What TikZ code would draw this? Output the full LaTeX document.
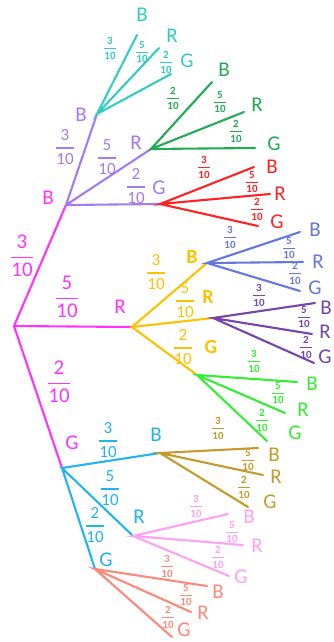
\documentclass[tikz,border=0pt]{standalone}
\usepackage{amsmath}
\usepackage{fontspec}
\setmainfont{Carlito}
\definecolor{cmag}{HTML}{FF33FF}
\definecolor{cpur}{HTML}{A47AF2}
\definecolor{ccya}{HTML}{33CCC0}
\definecolor{cgrn}{HTML}{22AA55}
\definecolor{cred}{HTML}{FF2222}
\definecolor{corg}{HTML}{FFC000}
\definecolor{cblu}{HTML}{6677DD}
\definecolor{cdpu}{HTML}{7744AA}
\definecolor{cbgr}{HTML}{33EE33}
\definecolor{csky}{HTML}{22B4EE}
\definecolor{cgld}{HTML}{C49A2A}
\definecolor{cpnk}{HTML}{FFA0F5}
\definecolor{csal}{HTML}{FF8878}
\newlength{\frt}
\newcommand{\fr}[2]{\ensuremath{\genfrac{}{}{\frt}{0}{\text{#1}}{\text{#2}}}}
\tikzset{
  br/.style={line width=2.1pt,line cap=round,#1},
  let/.style={inner sep=0pt,font=\fontsize{21}{21}\selectfont,text=#1},
  blet/.style={inner sep=0pt,font=\bfseries\fontsize{20}{20}\selectfont,text=#1},
  fa/.style={inner sep=0pt,font=\fontsize{21}{22}\selectfont\setlength{\frt}{1.5pt},text=#1},
  fb/.style={inner sep=0pt,font=\fontsize{17}{18}\selectfont\setlength{\frt}{1.2pt},text=#1},
  fc/.style={inner sep=0pt,font=\bfseries\fontsize{11}{12}\selectfont\setlength{\frt}{0.8pt},text=#1},
}
\begin{document}
\begin{tikzpicture}[x=1pt,y=-1pt]
\useasboundingbox (0,0) rectangle (333,642);
% level 0/1 points
\coordinate (root) at (14,326);
\coordinate (B1) at (66,205);
\coordinate (R1) at (132,327);
\coordinate (G1) at (62,468);
% level 2 points
\coordinate (B1B) at (97,114);
\coordinate (B1R) at (151,149);
\coordinate (B1G) at (160,204);
\coordinate (R1B) at (207,263);
\coordinate (R1R) at (213,318);
\coordinate (R1G) at (197,375);
\coordinate (G1B) at (160,453);
\coordinate (G1R) at (133,536);
\coordinate (G1G) at (95,569);
% level 3 ends
\coordinate (B1BB) at (137,35);  \coordinate (B1BR) at (159,48);  \coordinate (B1BG) at (171,74);
\coordinate (B1RB) at (212,82);  \coordinate (B1RR) at (244,112); \coordinate (B1RG) at (255,148);
\coordinate (B1GB) at (254,167); \coordinate (B1GR) at (270,194); \coordinate (B1GG) at (258,226);
\coordinate (R1BB) at (300,232); \coordinate (R1BR) at (303,262); \coordinate (R1BG) at (300,291);
\coordinate (R1RB) at (315,303); \coordinate (R1RR) at (312,334); \coordinate (R1RG) at (314,363);
\coordinate (R1GB) at (297,382); \coordinate (R1GR) at (285,413); \coordinate (R1GG) at (267,441);
\coordinate (G1BB) at (258,448); \coordinate (G1BR) at (263,475); \coordinate (G1BG) at (248,507);
\coordinate (G1RB) at (228,514); \coordinate (G1RR) at (243,545); \coordinate (G1RG) at (229,576);
\coordinate (G1GB) at (207,586); \coordinate (G1GR) at (191,612); \coordinate (G1GG) at (172,637);
% branches
\draw[br=cmag] (B1) -- (root) -- (R1) (root) -- (G1);
\draw[br=cpur] (B1B) -- (B1) -- (B1R) (B1) -- (B1G);
\draw[br=corg] (R1B) -- (R1) -- (R1R) (R1) -- (R1G);
\draw[br=csky] (G1B) -- (G1) -- (G1R) (G1) -- (G1G);
\draw[br=ccya] (B1BB) -- (B1B) -- (B1BR) (B1B) -- (B1BG);
\draw[br=cgrn] (B1RB) -- (B1R) -- (B1RR) (B1R) -- (B1RG);
\draw[br=cred] (B1GB) -- (B1G) -- (B1GR) (B1G) -- (B1GG);
\draw[br=cblu] (R1BB) -- (R1B) -- (R1BR) (R1B) -- (R1BG);
\draw[br=cdpu] (R1RB) -- (R1R) -- (R1RR) (R1R) -- (R1RG);
\draw[br=cbgr] (R1GB) -- (R1G) -- (R1GR) (R1G) -- (R1GG);
\draw[br=cgld] (G1BB) -- (G1B) -- (G1BR) (G1B) -- (G1BG);
\draw[br=cpnk] (G1RB) -- (G1R) -- (G1RR) (G1R) -- (G1RG);
\draw[br=csal] (G1GB) -- (G1G) -- (G1GR) (G1G) -- (G1GG);
% level 1 labels
\node[let=cmag] (tB1) at (48,198) {B};
\node[let=cmag] (tR1) at (120,307) {R};
\node[let=cmag] (tG1) at (72,443) {G};
\node[fa=cmag] (fB1) at (22,256) {\fr{3}{10}};
\node[fa=cmag] (fR1) at (67,297) {\fr{5}{10}};
\node[fa=cmag] (fG1) at (59,382) {\fr{2}{10}};
% level 2 labels
\node[let=cpur] (tB1B) at (81,115) {B};
\node[let=cpur] (tB1R) at (136,143) {R};
\node[let=cpur] (tB1G) at (159,188) {G};
\node[fb=cpur] (fB1B) at (65,147) {\fr{3}{10}};
\node[fb=cpur] (fB1R) at (107,157) {\fr{5}{10}};
\node[fb=cpur] (fB1G) at (136,186) {\fr{2}{10}};
\node[blet=corg] (tR1B) at (192,257) {B};
\node[blet=corg] (tR1R) at (208,297) {R};
\node[blet=corg] (tR1G) at (211,347) {G};
\node[fb=corg] (fR1B) at (156,272) {\fr{3}{10}};
\node[fb=corg] (fR1R) at (185,300) {\fr{5}{10}};
\node[fb=corg] (fR1G) at (183,347) {\fr{2}{10}};
\node[let=csky] (tG1B) at (156,435) {B};
\node[let=csky] (tG1R) at (139,517) {R};
\node[let=csky] (tG1G) at (106,560) {G};
\node[fb=csky] (fG1B) at (108,440) {\fr{3}{10}};
\node[fb=csky] (fG1R) at (110,488) {\fr{5}{10}};
\node[fb=csky] (fG1G) at (95,525) {\fr{2}{10}};
% level 3 labels
\node[let=ccya] (tB1BB) at (142,15) {B};
\node[let=ccya] (tB1BR) at (172,36) {R};
\node[let=ccya] (tB1BG) at (187,61) {G};
\node[fc=ccya] (fB1BB) at (110,48) {\fr{3}{10}};
\node[fc=ccya] (fB1BR) at (142,52) {\fr{5}{10}};
\node[fc=ccya] (fB1BG) at (166,62) {\fr{2}{10}};
\node[let=cgrn] (tB1RB) at (224,70) {B};
\node[let=cgrn] (tB1RR) at (257,105) {R};
\node[let=cgrn] (tB1RG) at (274,144) {G};
\node[fc=cgrn] (fB1RB) at (173,98) {\fr{2}{10}};
\node[fc=cgrn] (fB1RR) at (220,102) {\fr{5}{10}};
\node[fc=cgrn] (fB1RG) at (236,131) {\fr{2}{10}};
\node[let=cred] (tB1GB) at (272,167) {B};
\node[let=cred] (tB1GR) at (280,194) {R};
\node[let=cred] (tB1GG) at (277,222) {G};
\node[fc=cred] (fB1GB) at (204,167) {\fr{3}{10}};
\node[fc=cred] (fB1GR) at (252,182) {\fr{5}{10}};
\node[fc=cred] (fB1GG) at (257,209) {\fr{2}{10}};
\node[let=cblu] (tR1BB) at (315,230) {B};
\node[let=cblu] (tR1BR) at (318,262) {R};
\node[let=cblu] (tR1BG) at (315,288) {G};
\node[fc=cblu] (fR1BB) at (230,237) {\fr{3}{10}};
\node[fc=cblu] (fR1BR) at (289,248) {\fr{5}{10}};
\node[fc=cblu] (fR1BG) at (295,273) {\fr{2}{10}};
\node[let=cdpu] (tR1RB) at (326,308) {B};
\node[let=cdpu] (tR1RR) at (325,332) {R};
\node[let=cdpu] (tR1RG) at (325,357) {G};
\node[fc=cdpu] (fR1RB) at (259,295) {\fr{3}{10}};
\node[fc=cdpu] (fR1RR) at (304,317) {\fr{5}{10}};
\node[fc=cdpu] (fR1RG) at (306,347) {\fr{2}{10}};
\node[let=cbgr] (tR1GB) at (312,384) {B};
\node[let=cbgr] (tR1GR) at (303,410) {R};
\node[let=cbgr] (tR1GG) at (295,433) {G};
\node[fc=cbgr] (fR1GB) at (254,361) {\fr{3}{10}};
\node[fc=cbgr] (fR1GR) at (278,393) {\fr{5}{10}};
\node[fc=cbgr] (fR1GG) at (262,420) {\fr{2}{10}};
\node[let=cgld] (tG1BB) at (274,455) {B};
\node[let=cgld] (tG1BR) at (276,477) {R};
\node[let=cgld] (tG1BG) at (270,502) {G};
\node[fc=cgld] (fG1BB) at (218,428) {\fr{3}{10}};
\node[fc=cgld] (fG1BR) at (248,460) {\fr{5}{10}};
\node[fc=cgld] (fG1BG) at (244,487) {\fr{2}{10}};
\node[let=cpnk] (tG1RB) at (249,517) {B};
\node[let=cpnk] (tG1RR) at (257,546) {R};
\node[let=cpnk] (tG1RG) at (241,577) {G};
\node[fc=cpnk] (fG1RB) at (196,506) {\fr{3}{10}};
\node[fc=cpnk] (fG1RR) at (232,532) {\fr{5}{10}};
\node[fc=cpnk] (fG1RG) at (218,557) {\fr{2}{10}};
\node[let=csal] (tG1GB) at (218,592) {B};
\node[let=csal] (tG1GR) at (203,613) {R};
\node[let=csal] (tG1GG) at (184,630) {G};
\node[fc=csal] (fG1GB) at (167,566) {\fr{3}{10}};
\node[fc=csal] (fG1GR) at (186,595) {\fr{5}{10}};
\node[fc=csal] (fG1GG) at (168,617) {\fr{2}{10}};
\end{tikzpicture}
\end{document}
